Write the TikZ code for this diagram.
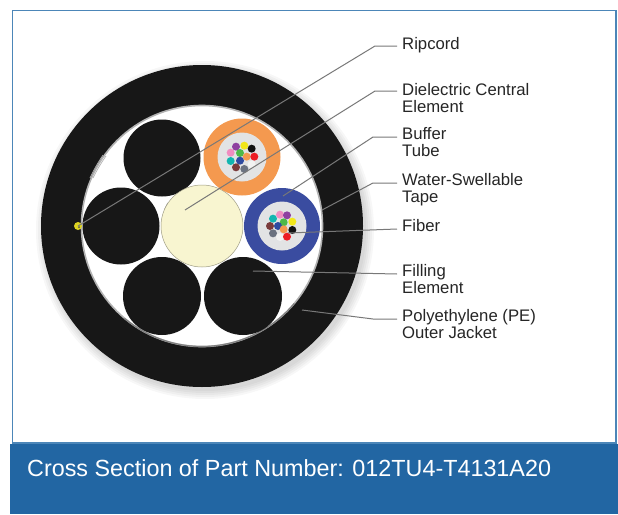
\documentclass[tikz,border=0pt]{standalone}
\usepackage{fontspec}
\setmainfont{Liberation Sans}
\definecolor{jack}{HTML}{171717}
\definecolor{band}{HTML}{2266A3}
\definecolor{frameb}{HTML}{4C86B8}
\definecolor{leader}{HTML}{787878}
\definecolor{tubeO}{HTML}{F4994F}
\definecolor{tubeB}{HTML}{3A4CA0}
\definecolor{gel}{HTML}{E2E3E4}
\definecolor{cream}{HTML}{F8F5D0}
\tikzset{
  lbl/.style={font=\fontsize{16.7}{16.6}\selectfont, text=black!85, anchor=north west, inner sep=0pt, align=left},
  leadline/.style={draw=leader, line width=1pt},
  filler/.style={fill=jack, draw=none}
}
\begin{document}
\begin{tikzpicture}[x=1pt,y=-1pt]
\useasboundingbox (0,0) rectangle (618,514);
\fill[white] (0,0) rectangle (618,514);
\draw[frameb, line width=1.2pt] (12.5,10.5) rectangle (616,443);
\fill[band] (10,443.5) rectangle (618,514);
\node[anchor=west, text=white, inner sep=0pt, font=\fontsize{23.35}{26}\selectfont] (cap) at (27,468) {Cross Section of Part Number: 012TU4-T4131A20};
% soft shadow
\foreach \r in {169,167,165,163,161}{\fill[black, opacity=0.03] (205,230) circle (\r);}
% jacket
\fill[jack] (202,226) circle (161);
\fill[white] (202,226) circle (120.5);
\draw[black!30, line width=1.6pt] (202,226) circle (120.5);
\draw[black!50, line width=1.2pt] (124.5,318.3) arc (130:40:120.5);
\draw[black!30, line width=0.7pt] (90,178) to[bend left=4] (103,155);
\draw[black!30, line width=0.7pt] (93,178) to[bend left=4] (106,156);
% fillers
\fill[filler] (162,158) circle (38.5);
\fill[filler] (121,226) circle (38.5);
\fill[filler] (162,296) circle (39);
\fill[filler] (243,296) circle (39);
\draw[black!45, line width=1.2pt] (165,209) -- (168,203);
% central element
\draw[fill=cream, draw=black!20!cream!80!black, line width=0.5pt] (202,226) circle (41);
% orange tube
\fill[tubeO] (242,157) circle (38.5);
\fill[gel] (242,157) circle (24.5);
\foreach \x/\y/\c in {138/110/8E3FA0,163/107/F2E71A,185/116/111111,122/128/F08CC0,150/129/4DB848,170/140/F4994F,193/140/EC1C24,122/153/12B5B0,150/152/2E4AA0,185/163/F2F2F2,138/172/7A3B3B,163/177/6B7280}{
  \definecolor{fc}{HTML}{\c}
  \fill[fc] ({190+\x/3},{110+\y/3}) circle (4);
}
% blue tube
\fill[tubeB] (282,226) circle (38);
\fill[gel] (282,226) circle (24.5);
\foreach \x/\y/\c in {270/314/F08CC0,291/316/8E3FA0,249/326/12B5B0,281/337/4DB848,307/335/F2E71A,240/348/7A3B3B,264/348/2E4AA0,281/358/F4994F,307/360/111111,249/370/6B7280,270/381/F2F2F2,291/380/EC1C24}{
  \definecolor{fc}{HTML}{\c}
  \fill[fc] ({190+\x/3},{110+\y/3}) circle (4);
}
% labels
\node[lbl] (l1) at (402,37.5) {Ripcord};
\node[lbl] (l2) at (402,83.5) {Dielectric Central\\Element};
\node[lbl] (l3) at (402,127.5) {Buffer\\Tube};
\node[lbl] (l4) at (402,173.5) {Water-Swellable\\Tape};
\node[lbl] (l5) at (402,219.5) {Fiber};
\node[lbl] (l6) at (402,264.5) {Filling\\Element};
\node[lbl] (l7) at (402,309.5) {Polyethylene (PE)\\Outer Jacket};
% ripcord
\fill[yellow!85!black] (78,226) circle (4);
\fill[black!70] (79,227) circle (1);
% leader anchors
\coordinate (a1) at (78,226);
\coordinate (a2) at (185,210);
\coordinate (a3) at (283,196);
\coordinate (a4) at (322,210);
\coordinate (a5) at (288,233);
\coordinate (a6) at (253,271);
\coordinate (a7) at (302,310);
\coordinate (e1) at (397,46);
\coordinate (e2) at (397,91);
\coordinate (e3) at (397,137);
\coordinate (e4) at (397,183);
\coordinate (e5) at (397,229);
\coordinate (e6) at (397,274);
\coordinate (e7) at (397,319);
\draw[leadline] (a1) -- (375,46) -- (e1);
\draw[leadline] (a2) -- (375,91) -- (e2);
\draw[leadline] (a3) -- (373,137) -- (e3);
\draw[leadline] (a4) -- (373,183) -- (e4);
\draw[leadline] (a5) -- (e5);
\draw[leadline] (a6) -- (e6);
\draw[leadline] (a7) -- (373,319) -- (e7);
\end{tikzpicture}
\end{document}
